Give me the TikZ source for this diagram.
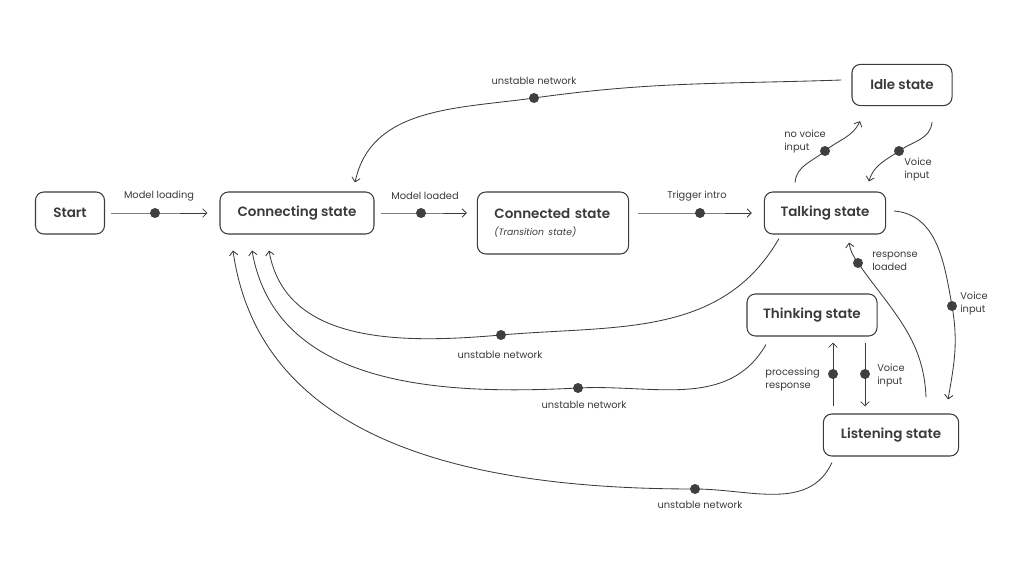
\documentclass[tikz,border=0pt]{standalone}
\usepackage{fontspec}
\setmainfont{Poppins}
\newfontfamily\statefont{Poppins SemiBold}
\usetikzlibrary{calc,arrows.meta,positioning}
\definecolor{lineGrey}{RGB}{60,60,60}
\definecolor{textGrey}{RGB}{58,58,58}
\definecolor{dotGrey}{RGB}{64,64,64}

\begin{document}
\begin{tikzpicture}[x=0.025cm,y=-0.025cm,
  state/.style={draw=lineGrey,line width=.75pt,rounded corners=6pt,minimum height=1.05cm,text=textGrey,font=\fontsize{9.6}{11}\statefont},
  lbl/.style={text=textGrey,font=\fontsize{7}{9.2}\selectfont,inner sep=0pt,align=left},
  dot/.style={circle,fill=dotGrey,inner sep=0pt,minimum size=0.25cm},
  link/.style={draw=lineGrey,line width=.6pt,-{Straight Barb[length=3pt,width=6pt]}}]
\useasboundingbox (0,0) rectangle (1024,577);

\node[state,minimum width=1.725cm] (start) at (70,213) {Start};
\node[state,minimum width=3.85cm] (conn) at (297,213) {Connecting state};
\node[state,minimum width=3.78cm,minimum height=1.55cm,text width=2.93cm,inner xsep=0.425cm,align=left] (connd) at (553,223) {Connected state\\[1pt]{\fontsize{6.6}{8}\rmfamily\itshape (Transition state)}};
\node[state,minimum width=3.03cm] (talk) at (825,213) {Talking state};
\node[state,minimum width=2.5cm,minimum height=1.03cm] (idle) at (902,85) {Idle state};
\node[state,minimum width=3.25cm] (think) at (812,315) {Thinking state};
\node[state,minimum width=3.38cm] (listen) at (891,435) {Listening state};

\node[dot] (d1) at (155,213) {};
\node[dot] (d2) at (421,213) {};
\node[dot] (d3) at (700,213) {};
\node[dot] (d4) at (534,98) {};
\node[dot] (d5) at (825,151) {};
\node[dot] (d6) at (899,151) {};
\node[dot] (d7) at (952,306) {};
\node[dot] (d8) at (858,263) {};
\node[dot] (d9) at (865,374) {};
\node[dot] (d10) at (833,374) {};
\node[dot] (d11) at (501,335) {};
\node[dot] (d12) at (578,388) {};
\node[dot] (d13) at (695,489) {};

\node[lbl] (l1) at (159,196) {Model loading};
\node[lbl] (l2) at (425,196) {Model loaded};
\node[lbl] (l3) at (697,196) {Trigger intro};
\node[lbl] (l4) at (534,81) {unstable network};
\node[lbl,anchor=west] (l5) at (784,142) {no voice\\input};
\node[lbl,anchor=west] (l6) at (904,170) {Voice\\input};
\node[lbl,anchor=west] (l7) at (960,304) {Voice\\input};
\node[lbl,anchor=west] (l8) at (872,261) {response\\loaded};
\node[lbl,anchor=west] (l9) at (877,376) {Voice\\input};
\node[lbl,anchor=east] (l10) at (820,380) {processing\\response};
\node[lbl] (l11) at (500,355) {unstable network};
\node[lbl] (l12) at (584,405) {unstable network};
\node[lbl] (l13) at (700,505) {unstable network};

\draw[link,shorten <=0.15cm,shorten >=0.3cm] (start) -- (d1.center) -- (conn);
\draw[link,shorten <=0.15cm,shorten >=0.25cm] (conn) -- (d2.center) -- (connd.west |- conn);
\draw[link,shorten <=0.22cm,shorten >=0.3cm] (connd.east |- talk) -- (d3.center) -- (talk);
\draw[link] ($(idle.west)+(-10,-5)$) to[out=182,in=8] (d4.center) to[out=188,in=78] ($(conn.north)+(58,-9)$);
\draw[link] ($(talk.north)+(-30,-9)$) to[out=85,in=220] (d5.center) to[out=40,in=245] ($(idle.south)+(-42,15)$);
\draw[link] ($(idle.south)+(30,16)$) to[out=265,in=35] (d6.center) to[out=215,in=75] ($(talk.north)+(44,-10)$);
\draw[link] ($(talk.east)+(8,-2)$) to[out=-5,in=100] (d7.center) to[out=-80,in=80] ($(listen.north)+(57,-14)$);
\draw[link] ($(listen.north)+(35,-16)$) to[out=92,in=-55] (d8.center) to[out=125,in=-80] ($(talk.south)+(24,8)$);
\draw[link] ($(think.south)+(53,6)$) -- (d9.center) -- ($(listen.north)+(-26,-7)$);
\draw[link] ($(listen.north)+(-58,-7)$) -- (d10.center) -- ($(think.south)+(21,6)$);
\draw[link] ($(talk.south)+(-46,4)$) to[out=240,in=5] (d11.center) to[out=185,in=-80] ($(conn.south)+(-28,16)$);
\draw[link] ($(think.south)+(-46,8)$) to[out=240,in=3] (d12.center) to[out=183,in=-80] ($(conn.south)+(-45,16)$);
\draw[link] ($(listen.south)+(-59,6)$) to[out=245,in=0] (d13.center) to[out=180,in=-82] ($(conn.south)+(-64,16)$);
\end{tikzpicture}
\end{document}
